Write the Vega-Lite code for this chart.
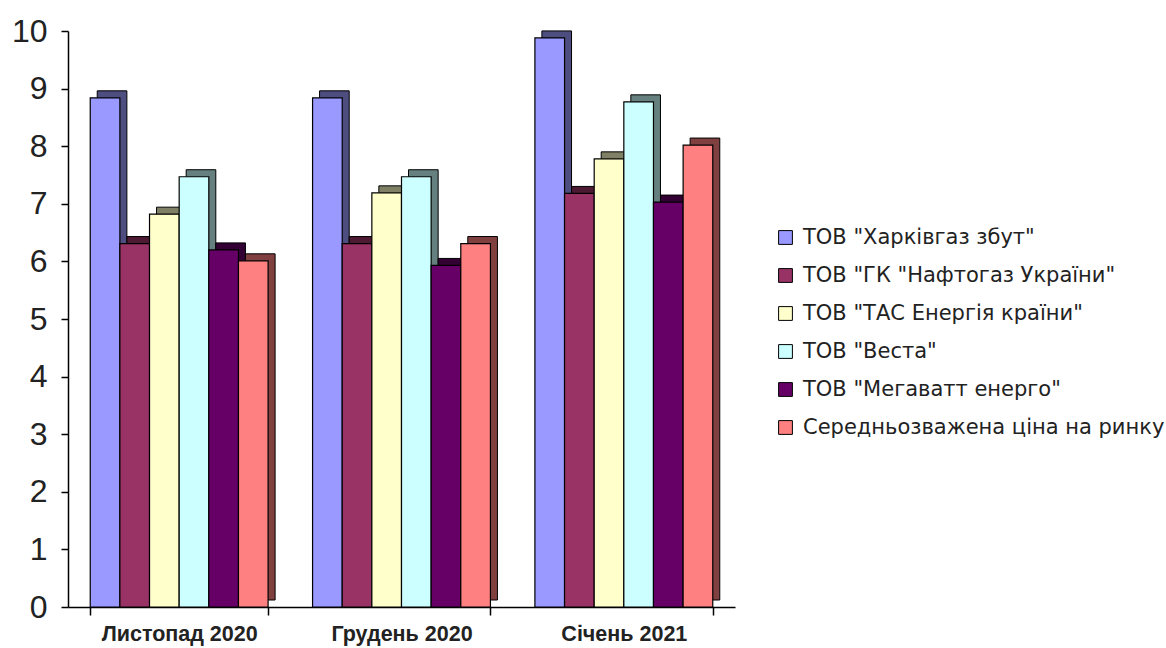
{
  "$schema": "https://vega.github.io/schema/vega-lite/v6.json",
  "autosize": "none",
  "width": 667,
  "height": 576,
  "padding": {"left": 68, "top": 31, "right": 431, "bottom": 41},
  "background": "white",
  "config": {"view": {"stroke": null}, "font": "Liberation Sans"},
  "data": {"values": [
    {"month": "Листопад 2020", "company": "ТОВ \"Харківгаз збут\"", "price": 8.84},
    {"month": "Листопад 2020", "company": "ТОВ \"ГК \"Нафтогаз України\"", "price": 6.31},
    {"month": "Листопад 2020", "company": "ТОВ \"ТАС Енергія країни\"", "price": 6.82},
    {"month": "Листопад 2020", "company": "ТОВ \"Веста\"", "price": 7.47},
    {"month": "Листопад 2020", "company": "ТОВ \"Мегаватт енерго\"", "price": 6.2},
    {"month": "Листопад 2020", "company": "Середньозважена ціна на ринку", "price": 6.01},
    {"month": "Грудень 2020", "company": "ТОВ \"Харківгаз збут\"", "price": 8.84},
    {"month": "Грудень 2020", "company": "ТОВ \"ГК \"Нафтогаз України\"", "price": 6.31},
    {"month": "Грудень 2020", "company": "ТОВ \"ТАС Енергія країни\"", "price": 7.19},
    {"month": "Грудень 2020", "company": "ТОВ \"Веста\"", "price": 7.47},
    {"month": "Грудень 2020", "company": "ТОВ \"Мегаватт енерго\"", "price": 5.93},
    {"month": "Грудень 2020", "company": "Середньозважена ціна на ринку", "price": 6.31},
    {"month": "Січень 2021", "company": "ТОВ \"Харківгаз збут\"", "price": 9.88},
    {"month": "Січень 2021", "company": "ТОВ \"ГК \"Нафтогаз України\"", "price": 7.18},
    {"month": "Січень 2021", "company": "ТОВ \"ТАС Енергія країни\"", "price": 7.78},
    {"month": "Січень 2021", "company": "ТОВ \"Веста\"", "price": 8.77},
    {"month": "Січень 2021", "company": "ТОВ \"Мегаватт енерго\"", "price": 7.03},
    {"month": "Січень 2021", "company": "Середньозважена ціна на ринку", "price": 8.02}
  ]},
  "encoding": {
    "xOffset": {
      "field": "company", "type": "nominal",
      "sort": ["ТОВ \"Харківгаз збут\"", "ТОВ \"ГК \"Нафтогаз України\"", "ТОВ \"ТАС Енергія країни\"", "ТОВ \"Веста\"", "ТОВ \"Мегаватт енерго\"", "Середньозважена ціна на ринку"],
      "scale": {"paddingInner": 0, "paddingOuter": 0}
    },
    "y": {
      "field": "price", "type": "quantitative",
      "scale": {"domain": [0, 10]},
      "axis": {
        "title": null, "values": [0,1,2,3,4,5,6,7,8,9,10], "grid": false,
        "labelFontSize": 32, "labelColor": "#222", "domainColor": "black", "tickColor": "black",
        "tickSize": 7, "labelPadding": 14, "domainWidth": 1.5, "tickWidth": 1.5
      }
    }
  },
  "layer": [
    {
      "mark": {"type": "bar", "yOffset": -7, "stroke": "black", "strokeWidth": 1},
      "encoding": {
        "x": {
          "field": "month", "type": "nominal", "sort": null,
          "scale": {"paddingInner": 0.2, "paddingOuter": 0.1, "range": [7, 674]},
          "axis": null
        },
        "color": {
          "field": "company", "type": "nominal", "legend": null,
          "scale": {
            "domain": ["ТОВ \"Харківгаз збут\"", "ТОВ \"ГК \"Нафтогаз України\"", "ТОВ \"ТАС Енергія країни\"", "ТОВ \"Веста\"", "ТОВ \"Мегаватт енерго\"", "Середньозважена ціна на ринку"],
            "range": ["#4D4D80", "#4D1A33", "#808066", "#668080", "#330033", "#804040"]
          }
        }
      }
    },
    {
      "mark": {"type": "bar", "stroke": "black", "strokeWidth": 1.2},
      "encoding": {
        "x": {
          "field": "month", "type": "nominal", "sort": null,
          "scale": {"paddingInner": 0.2, "paddingOuter": 0.1},
          "axis": {
            "title": null, "labelAngle": 0, "labelFontSize": 21.5, "labelFontWeight": "bold",
            "labelColor": "#222", "domainColor": "black", "tickColor": "black",
            "tickBand": "extent", "tickSize": 8, "labelPadding": 8, "domainWidth": 1.5, "tickWidth": 1.5
          }
        },
        "color": {
          "field": "company", "type": "nominal",
          "scale": {
            "domain": ["ТОВ \"Харківгаз збут\"", "ТОВ \"ГК \"Нафтогаз України\"", "ТОВ \"ТАС Енергія країни\"", "ТОВ \"Веста\"", "ТОВ \"Мегаватт енерго\"", "Середньозважена ціна на ринку"],
            "range": ["#9999FF", "#993366", "#FFFFCC", "#CCFFFF", "#660066", "#FF8080"]
          },
          "legend": {
            "title": null, "orient": "none", "legendX": 707, "legendY": 196,
            "symbolType": "square", "symbolSize": 190, "symbolStrokeColor": "black", "symbolStrokeWidth": 1,
            "labelFont": "DejaVu Sans", "labelFontSize": 21, "labelColor": "#222", "rowPadding": 16, "labelLimit": 450, "labelOffset": 7
          }
        }
      }
    }
  ],
  "resolve": {"scale": {"color": "independent", "x": "independent"}}
}
